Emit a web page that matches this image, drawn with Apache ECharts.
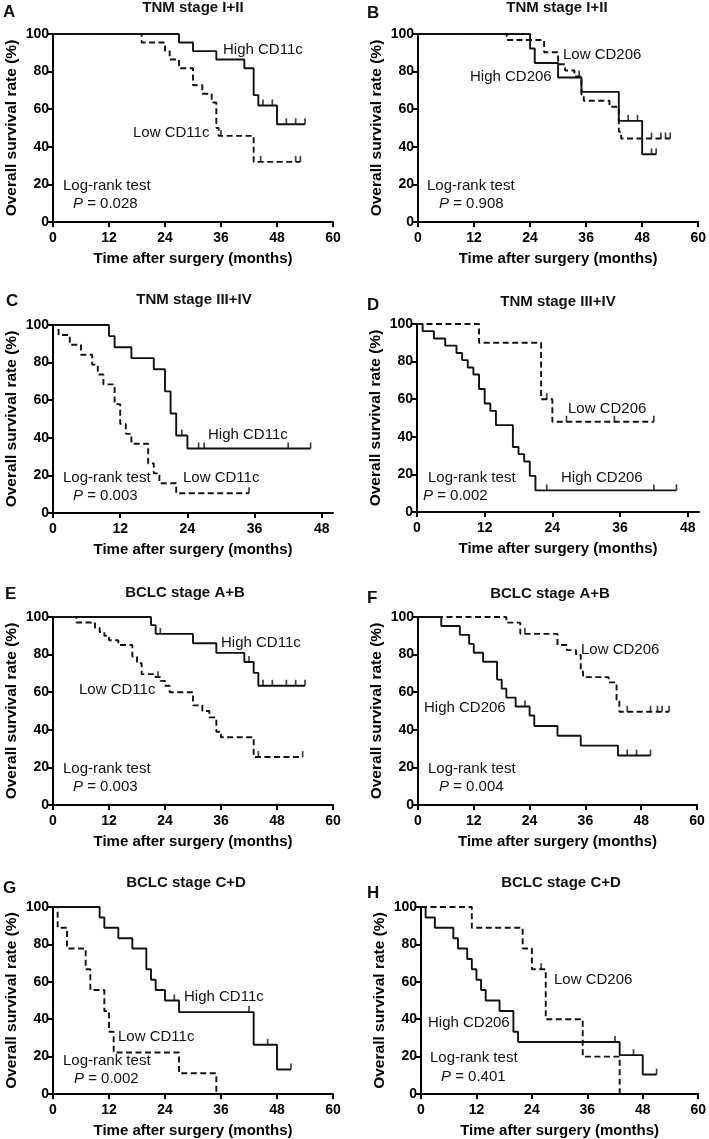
<!DOCTYPE html>
<html><head><meta charset="utf-8">
<script src="https://cdn.jsdelivr.net/npm/echarts@6.0.0/dist/echarts.min.js"></script>
<style>html,body{margin:0;padding:0;background:#fff}#c{width:709px;height:1139px}</style>
</head><body><div id="c"></div>
<script>
// ---------- text / tick data ----------
const panelLetters = ['A','B','C','D','E','F','G','H'];
const panelTitles = ['TNM stage I+II','TNM stage I+II','TNM stage III+IV','TNM stage III+IV','BCLC stage A+B','BCLC stage A+B','BCLC stage C+D','BCLC stage C+D'];
const highLabels = ['High CD11c','High CD206','High CD11c','High CD206','High CD11c','High CD206','High CD11c','High CD206'];
const lowLabels  = ['Low CD11c','Low CD206','Low CD11c','Low CD206','Low CD11c','Low CD206','Low CD11c','Low CD206'];
const pValues = ['0.028','0.908','0.003','0.002','0.003','0.004','0.002','0.401'];
const xMaxes = [60,60,50,50,60,60,60,60];
const xTicks60 = [0,12,24,36,48,60];
const xTicks48 = [0,12,24,36,48];
const yTicks = [0,20,40,60,80,100];
const xAxisTitle = 'Time after surgery (months)';
const yAxisTitle = 'Overall survival rate (%)';

// ---------- survival data (event times, survival after event, censor times) ----------
const A_highT = [27,30,35,41,43,44,48];
const A_highS = [95.5,90.9,86.4,81.8,67.5,62.0,52.0];
const A_highC = [45,47,50,52,54];
const A_lowT  = [19,24,25,27,30,32,34,35,35.5,43];
const A_lowS  = [95.5,90.9,86.4,81.8,72.7,68.2,63.6,50.0,45.8,32.0];
const A_lowC  = [36,44.5,52,53];

const B_highT = [24,25,30,35,43,48];
const B_highS = [92.3,84.6,76.9,69.2,53.8,36.0];
const B_highC = [45,47,50,51];
const B_lowT  = [19,27,30,31.5,33.5,35,35.5,41,43,43.5];
const B_lowS  = [96.8,90.3,83.9,80.6,77.4,67.7,64.5,61.3,48.0,44.4];
const B_lowC  = [34.5,50,52,53,54];

const C_highT = [10,11,14,18,20,21,22,24];
const C_highS = [94.1,88.2,82.4,76.5,64.7,52.9,41.2,34.3];
const C_highC = [23,26,27,42,46];
const C_lowT  = [1,3,5,7,8,9,11,12,13,14,17,18,19,22];
const C_lowS  = [94.7,89.5,84.2,78.9,73.7,68.4,57.9,47.4,42.1,36.8,26.3,21.1,15.8,10.5];
const C_lowC  = [35];

const D_highT = [1,3,5,7,8,9,10,11,12,13,14,17,18,19,20,21];
const D_highS = [96.2,92.3,88.5,84.6,80.8,76.9,73.1,65.4,57.7,53.8,46.2,34.6,30.8,26.9,19.2,11.5];
const D_highC = [23,42,46];
const D_lowT  = [11,22,24];
const D_lowS  = [90,60,48];
const D_lowC  = [23,26.5,35,42];

const E_highT = [21,22,30,35,41,43,44];
const E_highS = [95.7,91.0,86.0,80.9,76.1,70.3,63.4];
const E_highC = [23,42,45,47,50,52,54];
const E_lowT  = [5,9,10,11,12,14,17,18,19,22,23,24,25,30,32,33.5,35,36,43];
const E_lowS  = [97.1,94.3,92.0,90.0,87.6,85.1,78.9,75.4,69.6,68.0,66.0,63.4,60.0,53.0,50.0,46.6,39.0,36.0,25.5];
const E_lowC  = [22.5,44,53.5];

const F_highT = [5,9,11,12,14,17,18,19,21,24,25,30,35,43];
const F_highS = [95.2,90.5,85.7,81.0,76.2,66.7,61.9,57.1,52.4,47.6,42.0,36.8,31.6,26.3];
const F_highC = [23,45,47,50];
const F_lowT  = [19,22,30,32,34,35,35.5,41,42.7,43.3];
const F_lowS  = [97.0,91.0,85.1,82.4,79.8,71.0,68.0,65.2,56.0,49.6];
const F_lowC  = [23,45,50,51.5,52.5,54];

const G_highT = [10,11,14,17,20,21,22,24,27,43,48];
const G_highS = [94.4,88.9,83.3,77.8,66.7,61.1,55.6,50.0,43.8,26.3,13.1];
const G_highC = [26,42,46,51];
const G_lowT  = [1,3,7,8,11,12,13,27,35];
const G_lowS  = [88.9,77.8,66.7,55.6,44.4,33.3,22.2,11.1,0];
const G_lowC  = [];

const H_highT = [1,3,7,8,10,11,12,13,14,17,20,21,43,48];
const H_highS = [94.4,88.9,83.3,77.8,72.2,66.7,61.1,55.6,50.0,44.4,33.3,27.8,20.8,10.4];
const H_highC = [42,46,51];
const H_lowT  = [11,22,24,27,35,43];
const H_lowS  = [88.9,77.8,66.7,40.0,20.0,0];
const H_lowC  = [26];

const highData = [[A_highT,A_highS,A_highC],[B_highT,B_highS,B_highC],[C_highT,C_highS,C_highC],[D_highT,D_highS,D_highC],[E_highT,E_highS,E_highC],[F_highT,F_highS,F_highC],[G_highT,G_highS,G_highC],[H_highT,H_highS,H_highC]];
const lowData  = [[A_lowT,A_lowS,A_lowC],[B_lowT,B_lowS,B_lowC],[C_lowT,C_lowS,C_lowC],[D_lowT,D_lowS,D_lowC],[E_lowT,E_lowS,E_lowC],[F_lowT,F_lowS,F_lowC],[G_lowT,G_lowS,G_lowC],[H_lowT,H_lowS,H_lowC]];

// ---------- layout (pixels) ----------
const layout = [
  {grid:{left:53, top:34, width:280}, title:[193,8],  letter:[3,12],   hi:[223,50],  lo:[133,133], lr:[63,186],  p:[73,204]},
  {grid:{left:418,top:34, width:281}, title:[557,8],  letter:[367,13], hi:[470,77],  lo:[563,55],  lr:[427,186], p:[439,204]},
  {grid:{left:53, top:325,width:280}, title:[194,300],letter:[6,301],  hi:[208,435], lo:[183,478], lr:[63,478],  p:[73,496]},
  {grid:{left:417,top:324,width:282}, title:[558,302],letter:[367,305],hi:[561,478], lo:[568,409], lr:[428,478], p:[423,496]},
  {grid:{left:53, top:617,width:280}, title:[185,593],letter:[5,594],  hi:[221,643], lo:[79,690],  lr:[63,769],  p:[73,787]},
  {grid:{left:418,top:617,width:279}, title:[550,594],letter:[367,598],hi:[424,708], lo:[581,650], lr:[428,769], p:[439,787]},
  {grid:{left:53, top:907,width:280}, title:[186,883],letter:[3,888],  hi:[184,997], lo:[118,1037],lr:[63,1061], p:[74,1079]},
  {grid:{left:421,top:907,width:281}, title:[561,883],letter:[367,893],hi:[428,1023],lo:[554,980], lr:[430,1058],p:[441,1077]}
];
const GRID_H = 188;
const FONT = "'Liberation Sans', Arial, Helvetica, sans-serif";
const INK = '#111';

// ---------- helpers ----------
function kmLine(t, s, c) {
  const end = Math.max(t[t.length - 1], ...(c.length ? c : [0]));
  const pts = [[0, 100]];
  t.forEach((v, i) => pts.push([v, s[i]]));
  pts.push([end, s[s.length - 1]]);
  return pts;
}
function survAt(t, s, x) {
  let v = 100;
  for (let i = 0; i < t.length; i++) if (t[i] <= x) v = s[i];
  return v;
}
function censorPts(t, s, c) { return c.map(x => [x, survAt(t, s, x)]); }

function txt(x, y, text, opts) {
  const o = Object.assign({size: 15, weight: 'normal', italic: false, align: 'left'}, opts || {});
  const font = (o.italic ? 'italic ' : '') + o.weight + ' ' + o.size + 'px ' + FONT;
  return {type: 'text', x: x, y: y, silent: true,
    style: {text: text, font: font, fill: INK, textAlign: o.align, align: o.align,
            textVerticalAlign: 'middle', verticalAlign: 'middle'}};
}

const grids = [], xAxes = [], yAxes = [], series = [], graphics = [];
layout.forEach((L, i) => {
  grids.push({left: L.grid.left, top: L.grid.top, width: L.grid.width, height: GRID_H});
  const ticks = xMaxes[i] === 60 ? xTicks60 : xTicks48;
  const axisCommon = {
    axisLine: {show: true, onZero: false, lineStyle: {color: '#000', width: 2}},
    axisTick: {show: true, length: 5, lineStyle: {color: '#000', width: 2}},
    splitLine: {show: false}
  };
  xAxes.push(Object.assign({}, axisCommon, {
    type: 'value', gridIndex: i, min: 0, max: xMaxes[i],
    axisTick: Object.assign({}, axisCommon.axisTick, {customValues: ticks}),
    axisLabel: {customValues: ticks, color: '#000', fontFamily: FONT, fontWeight: 'bold', fontSize: 14, margin: 9},
    name: xAxisTitle, nameLocation: 'middle', nameGap: 29,
    nameTextStyle: {color: '#000', fontFamily: FONT, fontWeight: 'bold', fontSize: 15}
  }));
  yAxes.push(Object.assign({}, axisCommon, {
    type: 'value', gridIndex: i, min: 0, max: 100,
    axisTick: Object.assign({}, axisCommon.axisTick, {customValues: yTicks}),
    axisLabel: {customValues: yTicks, color: '#000', fontFamily: FONT, fontWeight: 'bold', fontSize: 14, margin: 4},
    name: yAxisTitle, nameLocation: 'middle', nameGap: 33,
    nameTextStyle: {color: '#000', fontFamily: FONT, fontWeight: 'bold', fontSize: 15.5}
  }));
  const [ht, hs, hc] = highData[i];
  const [lt, ls, lc] = lowData[i];
  series.push({type: 'line', xAxisIndex: i, yAxisIndex: i, step: 'end', symbol: 'none',
    data: kmLine(ht, hs, hc), lineStyle: {color: INK, width: 1.9, type: 'solid'}, z: 3, silent: true});
  series.push({type: 'line', xAxisIndex: i, yAxisIndex: i, step: 'end', symbol: 'none',
    data: kmLine(lt, ls, lc), lineStyle: {color: INK, width: 1.9, type: [6, 3.5]}, z: 3, silent: true});
  series.push({type: 'scatter', xAxisIndex: i, yAxisIndex: i, symbol: 'rect', symbolSize: [1.7, 6],
    symbolOffset: [0, -3], itemStyle: {color: INK}, data: censorPts(ht, hs, hc).concat(censorPts(lt, ls, lc)), z: 4, silent: true});

  graphics.push(txt(L.title[0], L.title[1], panelTitles[i], {weight: 'bold', size: 15, align: 'center'}));
  graphics.push(txt(L.letter[0], L.letter[1], panelLetters[i], {weight: 'bold', size: 17}));
  graphics.push(txt(L.hi[0], L.hi[1], highLabels[i]));
  graphics.push(txt(L.lo[0], L.lo[1], lowLabels[i]));
  graphics.push(txt(L.lr[0], L.lr[1], 'Log-rank test'));
  graphics.push(txt(L.p[0], L.p[1], 'P', {italic: true}));
  graphics.push(txt(L.p[0] + 10, L.p[1], ' = ' + pValues[i]));
});

const chart = echarts.init(document.getElementById('c'), null, {renderer: 'canvas'});
chart.setOption({
  animation: false,
  backgroundColor: '#fff',
  grid: grids, xAxis: xAxes, yAxis: yAxes, series: series,
  graphic: {elements: graphics}
});
</script></body></html>
